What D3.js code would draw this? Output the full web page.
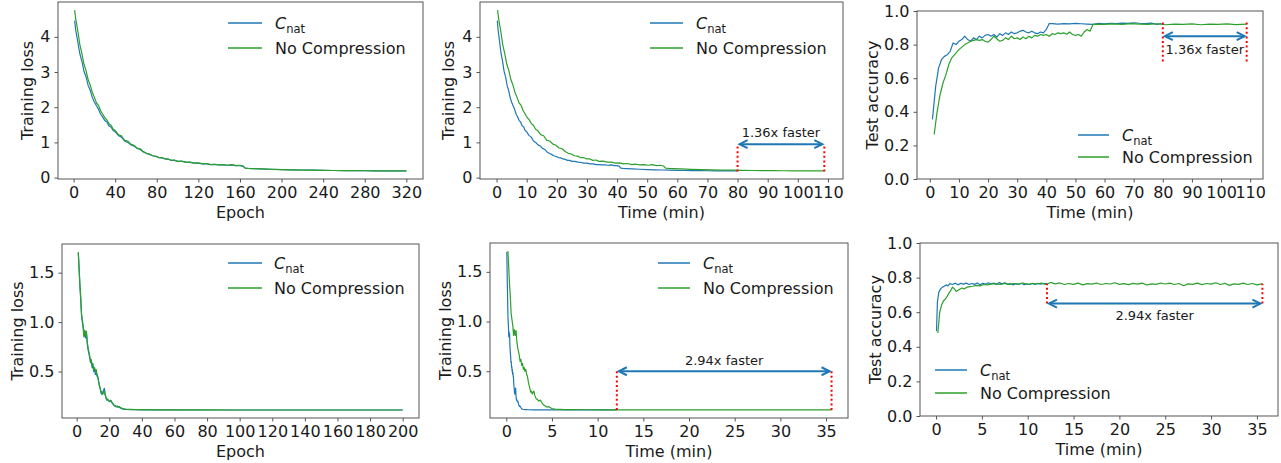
<!DOCTYPE html>
<html><head><meta charset="utf-8">
<script src="https://cdn.jsdelivr.net/npm/d3@7"></script>
<style>
body{margin:0;background:#fff}
svg{display:block}
text{font-family:"DejaVu Sans",sans-serif;fill:#1a1a1a}
</style>
</head><body>
<svg id="c" width="1281" height="463"></svg>
<script>
// ---------------- DATA ----------------
const seriesNames = ["C_nat", "No Compression"];

// Top row: training loss per epoch (ResNet-like run, 320 epochs)
const topEpochs = [1,2,4,6,8,10,12,14,16,18,20,22,24,26,28,30,32,34,36,38,40,43,46,49,52,55,58,61,64,67,70,73,76,79,82,85,88,91,94,97,100,104,108,112,116,120,124,128,132,136,140,144,148,152,156,160,163,165,168,172,180,190,200,210,220,230,240,250,260,270,280,290,300,310,320];
const topLossCnat = [4.46,4.20,3.86,3.52,3.30,3.02,2.86,2.62,2.48,2.28,2.14,2.04,1.94,1.80,1.72,1.62,1.58,1.47,1.44,1.34,1.30,1.20,1.15,1.04,1.00,0.93,0.90,0.83,0.80,0.73,0.69,0.66,0.62,0.60,0.57,0.56,0.53,0.52,0.49,0.49,0.46,0.46,0.44,0.43,0.41,0.41,0.39,0.39,0.37,0.37,0.36,0.36,0.35,0.36,0.34,0.34,0.32,0.27,0.26,0.255,0.245,0.237,0.228,0.222,0.216,0.21,0.206,0.202,0.20,0.198,0.195,0.193,0.19,0.19,0.19];
const topLossNoComp = [4.76,4.52,4.18,3.78,3.52,3.22,3.04,2.78,2.63,2.42,2.28,2.12,2.05,1.90,1.80,1.70,1.64,1.53,1.49,1.38,1.34,1.22,1.19,1.06,1.04,0.95,0.92,0.84,0.82,0.74,0.69,0.67,0.62,0.61,0.57,0.57,0.53,0.53,0.49,0.50,0.46,0.47,0.44,0.44,0.41,0.42,0.39,0.40,0.37,0.38,0.36,0.37,0.35,0.37,0.34,0.35,0.33,0.27,0.26,0.255,0.245,0.235,0.228,0.222,0.215,0.21,0.205,0.202,0.20,0.197,0.195,0.193,0.19,0.19,0.19];
// total wall-clock minutes of each top-row run
const topTotalEpochs = 320;
const topTotalMinCnat = 80;
const topTotalMinNoComp = 108.8;

// Top row: test accuracy vs time (min)
const topAccCnat = [[0.9,0.355],[2,0.55],[3,0.66],[4,0.71],[5,0.73],[6,0.74],[7,0.76],[8,0.81],[9,0.80],[10,0.82],[11,0.83],[12,0.85],[13,0.83],[14,0.82],[15,0.84],[16,0.83],[17,0.85],[18,0.84],[19,0.855],[20,0.86],[21,0.85],[22,0.86],[23,0.845],[24,0.865],[25,0.855],[26,0.87],[27,0.86],[28,0.875],[29,0.865],[30,0.87],[31,0.88],[32,0.885],[33,0.875],[34,0.87],[35,0.88],[36,0.87],[37,0.865],[38,0.875],[39,0.87],[40,0.89],[41,0.925],[42,0.925],[44,0.922],[46,0.925],[48,0.923],[50,0.926],[52,0.924],[54,0.922],[56,0.92],[58,0.926],[60,0.924],[62,0.927],[64,0.925],[66,0.928],[68,0.926],[70,0.93],[72,0.927],[74,0.925],[76,0.928],[78,0.92],[79.5,0.925]];
const topAccNoComp = [[1.5,0.265],[2.5,0.40],[3.5,0.50],[4.5,0.57],[5.5,0.62],[6.5,0.68],[7.5,0.72],[8.5,0.74],[10,0.77],[11,0.785],[12,0.80],[13,0.81],[14,0.82],[15,0.825],[16,0.83],[17,0.825],[18,0.83],[19,0.82],[20,0.815],[21,0.83],[22,0.85],[23,0.835],[24,0.82],[25,0.825],[26,0.84],[27,0.83],[28,0.85],[29,0.835],[30,0.84],[31,0.83],[32,0.845],[33,0.835],[34,0.85],[35,0.84],[36,0.855],[37,0.85],[38,0.86],[39,0.855],[40,0.86],[41,0.85],[42,0.865],[43,0.86],[44,0.87],[45,0.865],[46,0.87],[47,0.862],[48,0.875],[49,0.86],[50,0.855],[51,0.86],[52,0.85],[53,0.875],[54,0.89],[55,0.88],[56,0.92],[58,0.922],[60,0.92],[63,0.923],[66,0.92],[69,0.925],[72,0.922],[75,0.92],[78,0.924],[81,0.918],[84,0.922],[87,0.92],[90,0.923],[93,0.918],[96,0.922],[99,0.92],[102,0.923],[105,0.919],[108.8,0.922]];

// Bottom row: training loss per epoch (200 epochs)
const botEpochs = [1,1.5,2,2.5,3,3.5,4,4.5,5,5.5,6,6.5,7,7.5,8,8.5,9,9.5,10,10.5,11,11.5,12,12.5,13,13.5,14,14.5,15,15.5,16,16.5,17,17.5,18,18.5,19,20,21,22,23,24,25,26,27,28,30,33,36,40,50,60,80,100,120,140,160,180,200];
const botLossCnat = [1.70,1.52,1.36,1.22,1.06,1.00,0.94,0.85,0.90,0.84,0.88,0.78,0.72,0.68,0.64,0.59,0.60,0.54,0.55,0.50,0.52,0.47,0.49,0.45,0.44,0.39,0.35,0.32,0.28,0.27,0.28,0.31,0.33,0.27,0.23,0.21,0.215,0.195,0.20,0.175,0.155,0.145,0.15,0.14,0.13,0.122,0.118,0.115,0.114,0.113,0.112,0.112,0.111,0.111,0.111,0.111,0.111,0.111,0.111];
const botLossNoComp = [1.71,1.55,1.38,1.25,1.08,1.02,0.96,0.86,0.92,0.86,0.91,0.80,0.74,0.70,0.66,0.60,0.62,0.56,0.58,0.52,0.54,0.50,0.52,0.47,0.45,0.40,0.36,0.33,0.29,0.30,0.27,0.29,0.30,0.26,0.24,0.22,0.22,0.20,0.21,0.18,0.16,0.15,0.14,0.145,0.135,0.125,0.12,0.117,0.115,0.114,0.113,0.112,0.112,0.111,0.111,0.111,0.111,0.111,0.111];
const botTotalEpochs = 200;
const botTotalMinCnat = 12.1;
const botTotalMinNoComp = 35.6;

// Bottom row: test accuracy vs time (min)
const botAccCnat = [[0.05,0.49],[0.15,0.66],[0.3,0.715],[0.5,0.735],[0.7,0.745],[0.9,0.75],[1.1,0.758],[1.3,0.752],[1.5,0.765],[1.8,0.76],[2.1,0.768],[2.4,0.758],[2.7,0.767],[3.0,0.762],[3.3,0.768],[3.6,0.76],[3.9,0.766],[4.2,0.761],[4.5,0.769],[4.8,0.759],[5.1,0.767],[5.4,0.762],[5.7,0.77],[6.0,0.763],[6.3,0.768],[6.6,0.76],[6.9,0.771],[7.2,0.764],[7.5,0.77],[7.8,0.761],[8.1,0.766],[8.4,0.758],[8.7,0.765],[9.0,0.761],[9.3,0.767],[9.6,0.759],[9.9,0.764],[10.2,0.76],[10.5,0.766],[10.8,0.761],[11.1,0.767],[11.4,0.762],[11.7,0.766],[12.1,0.765]];
const botAccNoComp = [[0.2,0.48],[0.4,0.60],[0.6,0.64],[0.8,0.665],[1.0,0.675],[1.2,0.69],[1.4,0.71],[1.6,0.725],[1.8,0.745],[2.0,0.735],[2.2,0.72],[2.5,0.73],[2.8,0.74],[3.1,0.735],[3.4,0.745],[3.7,0.748],[4.0,0.75],[4.4,0.755],[4.8,0.752],[5.2,0.76],[5.6,0.758],[6.0,0.762],[6.5,0.765],[7.0,0.76],[7.5,0.767],[8.0,0.761],[8.5,0.766],[9.0,0.762],[9.5,0.769],[10.0,0.76],[10.5,0.767],[11.0,0.763],[11.5,0.768],[12.0,0.76],[12.5,0.772],[13.0,0.764],[13.5,0.769],[14.0,0.76],[14.5,0.766],[15.0,0.761],[15.5,0.768],[16.0,0.758],[16.5,0.765],[17.0,0.762],[17.5,0.769],[18.0,0.76],[18.5,0.766],[19.0,0.763],[19.5,0.77],[20.0,0.761],[20.5,0.765],[21.0,0.759],[21.5,0.767],[22.0,0.762],[22.5,0.768],[23.0,0.757],[23.5,0.764],[24.0,0.761],[24.5,0.769],[25.0,0.763],[25.5,0.768],[26.0,0.76],[26.5,0.766],[27.0,0.753],[27.5,0.764],[28.0,0.761],[28.5,0.768],[29.0,0.759],[29.5,0.766],[30.0,0.762],[30.5,0.77],[31.0,0.76],[31.5,0.767],[32.0,0.755],[32.5,0.764],[33.0,0.761],[33.5,0.768],[34.0,0.76],[34.5,0.766],[35.0,0.758],[35.6,0.765]];

// Tick values
const ticksEpochTop = [0,40,80,120,160,200,240,280,320];
const ticksTimeTop = [0,10,20,30,40,50,60,70,80,90,100,110];
const ticksLossTop = [0,1,2,3,4];
const ticksAcc = [0,0.2,0.4,0.6,0.8,1.0];
const ticksEpochBot = [0,20,40,60,80,100,120,140,160,180,200];
const ticksTimeBot = [0,5,10,15,20,25,30,35];
const ticksLossBot = [0.5,1.0,1.5];

const speedupLabels = ["1.36x faster", "2.94x faster"];

// ---------------- BUILD ----------------
const BLUE = "#1f77b4", GREEN = "#2ca02c";
const zip = (xs, ys, k) => xs.map((x, i) => [x * k, ys[i]]);

const topLossCnatEpoch = zip(topEpochs, topLossCnat, 1);
const topLossNoCompEpoch = zip(topEpochs, topLossNoComp, 1);
const topLossCnatTime = zip(topEpochs, topLossCnat, topTotalMinCnat / topTotalEpochs);
const topLossNoCompTime = zip(topEpochs, topLossNoComp, topTotalMinNoComp / topTotalEpochs);
const botLossCnatEpoch = zip(botEpochs, botLossCnat, 1);
const botLossNoCompEpoch = zip(botEpochs, botLossNoComp, 1);
const botLossCnatTime = zip(botEpochs, botLossCnat, botTotalMinCnat / botTotalEpochs);
const botLossNoCompTime = zip(botEpochs, botLossNoComp, botTotalMinNoComp / botTotalEpochs);

const fInt = d3.format("d"), f1 = d3.format(".1f");

const panels = [
  {box:[58,2,423,179], xd:[-15,336], yd:[-0.04,4.99], xt:ticksEpochTop, yt:ticksLossTop, yf:fInt,
   xl:"Epoch", yl:"Training loss", ylx:27, data:[topLossCnatEpoch, topLossNoCompEpoch],
   leg:{x1:228,x2:262,tx:275,y:[23,48]}},
  {box:[480,2,843,179], xd:[-5.5,115], yd:[-0.04,4.99], xt:ticksTimeTop, yt:ticksLossTop, yf:fInt,
   xl:"Time (min)", yl:"Training loss", ylx:448, data:[topLossCnatTime, topLossNoCompTime],
   leg:{x1:650,x2:683,tx:696,y:[23,48]},
   ann:{a:topTotalMinCnat, b:topTotalMinNoComp, r0:0.17, r1:0.93, ay:0.95, txt:speedupLabels[0], tdy:-12}},
  {box:[917,11,1263,179], xd:[-4.4,114.4], yd:[0,1], xt:ticksTimeTop, yt:ticksAcc, yf:f1,
   xl:"Time (min)", yl:"Test accuracy", ylx:872, data:[topAccCnat, topAccNoComp],
   leg:{x1:1078,x2:1109,tx:1122,y:[135,157]},
   ann:{a:topTotalMinCnat, b:topTotalMinNoComp, r0:0.70, r1:0.94, ay:0.85, txt:speedupLabels[0], tdy:13}},
  {box:[62,244,419,418], xd:[-9,210], yd:[0.03,1.79], xt:ticksEpochBot, yt:ticksLossBot, yf:f1,
   xl:"Epoch", yl:"Training loss", ylx:17, data:[botLossCnatEpoch, botLossNoCompEpoch],
   leg:{x1:228,x2:262,tx:274,y:[263,288]}},
  {box:[490,243,848,418], xd:[-1.78,37.4], yd:[0.03,1.79], xt:ticksTimeBot, yt:ticksLossBot, yf:f1,
   xl:"Time (min)", yl:"Training loss", ylx:445, data:[botLossCnatTime, botLossNoCompTime],
   leg:{x1:658,x2:690,tx:703,y:[263,288]},
   ann:{a:botTotalMinCnat, b:botTotalMinNoComp, r0:0.11, r1:0.50, ay:0.50, txt:speedupLabels[1], tdy:-11}},
  {box:[920,243,1278,416], xd:[-1.75,37.3], yd:[0,1], xt:ticksTimeBot, yt:ticksAcc, yf:f1,
   xl:"Time (min)", yl:"Test accuracy", ylx:875, data:[botAccCnat, botAccNoComp],
   leg:{x1:935,x2:967,tx:980,y:[370,393]},
   ann:{a:botTotalMinCnat, b:botTotalMinNoComp, r0:0.65, r1:0.765, ay:0.65, txt:speedupLabels[1], tdy:12}}
];

const svg = d3.select("#c");
const FRAME = "#555";

panels.forEach(p => {
  const [L,T,R,B] = p.box;
  const x = d3.scaleLinear().domain(p.xd).range([L,R]);
  const y = d3.scaleLinear().domain(p.yd).range([B,T]);
  const g = svg.append("g");

  // data lines
  const line = d3.line().x(d => x(d[0])).y(d => y(d[1]));
  [BLUE, GREEN].forEach((c, i) => {
    g.append("path").datum(p.data[i]).attr("d", line)
      .attr("fill","none").attr("stroke",c).attr("stroke-width",1.2)
      .attr("stroke-linejoin","round");
  });

  // annotations
  if (p.ann) {
    const a = p.ann;
    [a.a, a.b].forEach(v => {
      g.append("line").attr("x1",x(v)).attr("x2",x(v)).attr("y1",y(a.r0)).attr("y2",y(a.r1))
        .attr("stroke","#ff0000").attr("stroke-width",2).attr("stroke-dasharray","2,2.6");
    });
    const ax1 = x(a.a) + 2, ax2 = x(a.b) - 2, ay = y(a.ay);
    g.append("line").attr("x1",ax1).attr("x2",ax2).attr("y1",ay).attr("y2",ay)
      .attr("stroke",BLUE).attr("stroke-width",2);
    g.append("path").attr("d",`M${ax1+8},${ay-4}L${ax1},${ay}L${ax1+8},${ay+4}M${ax2-8},${ay-4}L${ax2},${ay}L${ax2-8},${ay+4}`)
      .attr("fill","none").attr("stroke",BLUE).attr("stroke-width",2);
    g.append("text").attr("x",(ax1+ax2)/2).attr("y",ay + a.tdy).attr("dy","0.35em")
      .attr("text-anchor","middle").attr("font-size",13).text(a.txt);
  }

  // axes
  const xa = g.append("g").attr("transform",`translate(0,${B})`)
    .call(d3.axisBottom(x).tickValues(p.xt).tickFormat(fInt).tickSize(3.5).tickPadding(4));
  const ya = g.append("g").attr("transform",`translate(${L},0)`)
    .call(d3.axisLeft(y).tickValues(p.yt).tickFormat(p.yf).tickSize(3.5).tickPadding(4));
  [xa, ya].forEach(a => {
    a.select(".domain").remove();
    a.selectAll("line").attr("stroke",FRAME);
    a.selectAll("text").attr("font-size",16).attr("font-family","DejaVu Sans").attr("fill","#1a1a1a");
  });

  // frame
  g.append("rect").attr("x",L).attr("y",T).attr("width",R-L).attr("height",B-T)
    .attr("fill","none").attr("stroke",FRAME).attr("stroke-width",1);

  // axis labels
  g.append("text").attr("x",(L+R)/2).attr("y",B+39).attr("text-anchor","middle")
    .attr("font-size",16).text(p.xl);
  g.append("text").attr("transform",`translate(${p.ylx},${(T+B)/2}) rotate(-90)`)
    .attr("text-anchor","middle").attr("dy","0.35em").attr("font-size",16).text(p.yl);

  // legend
  const lg = p.leg;
  [BLUE, GREEN].forEach((c, i) => {
    g.append("line").attr("x1",lg.x1).attr("x2",lg.x2).attr("y1",lg.y[i]).attr("y2",lg.y[i])
      .attr("stroke",c).attr("stroke-width",1.5);
  });
  const t0 = g.append("text").attr("x",lg.tx).attr("y",lg.y[0]).attr("dy","0.35em").attr("font-size",16);
  t0.append("tspan").attr("font-style","italic").text("C");
  t0.append("tspan").attr("font-size",11.5).attr("dy",4).text("nat");
  g.append("text").attr("x",lg.tx).attr("y",lg.y[1]).attr("dy","0.35em").attr("font-size",16).text(seriesNames[1]);
});
</script>
</body></html>
